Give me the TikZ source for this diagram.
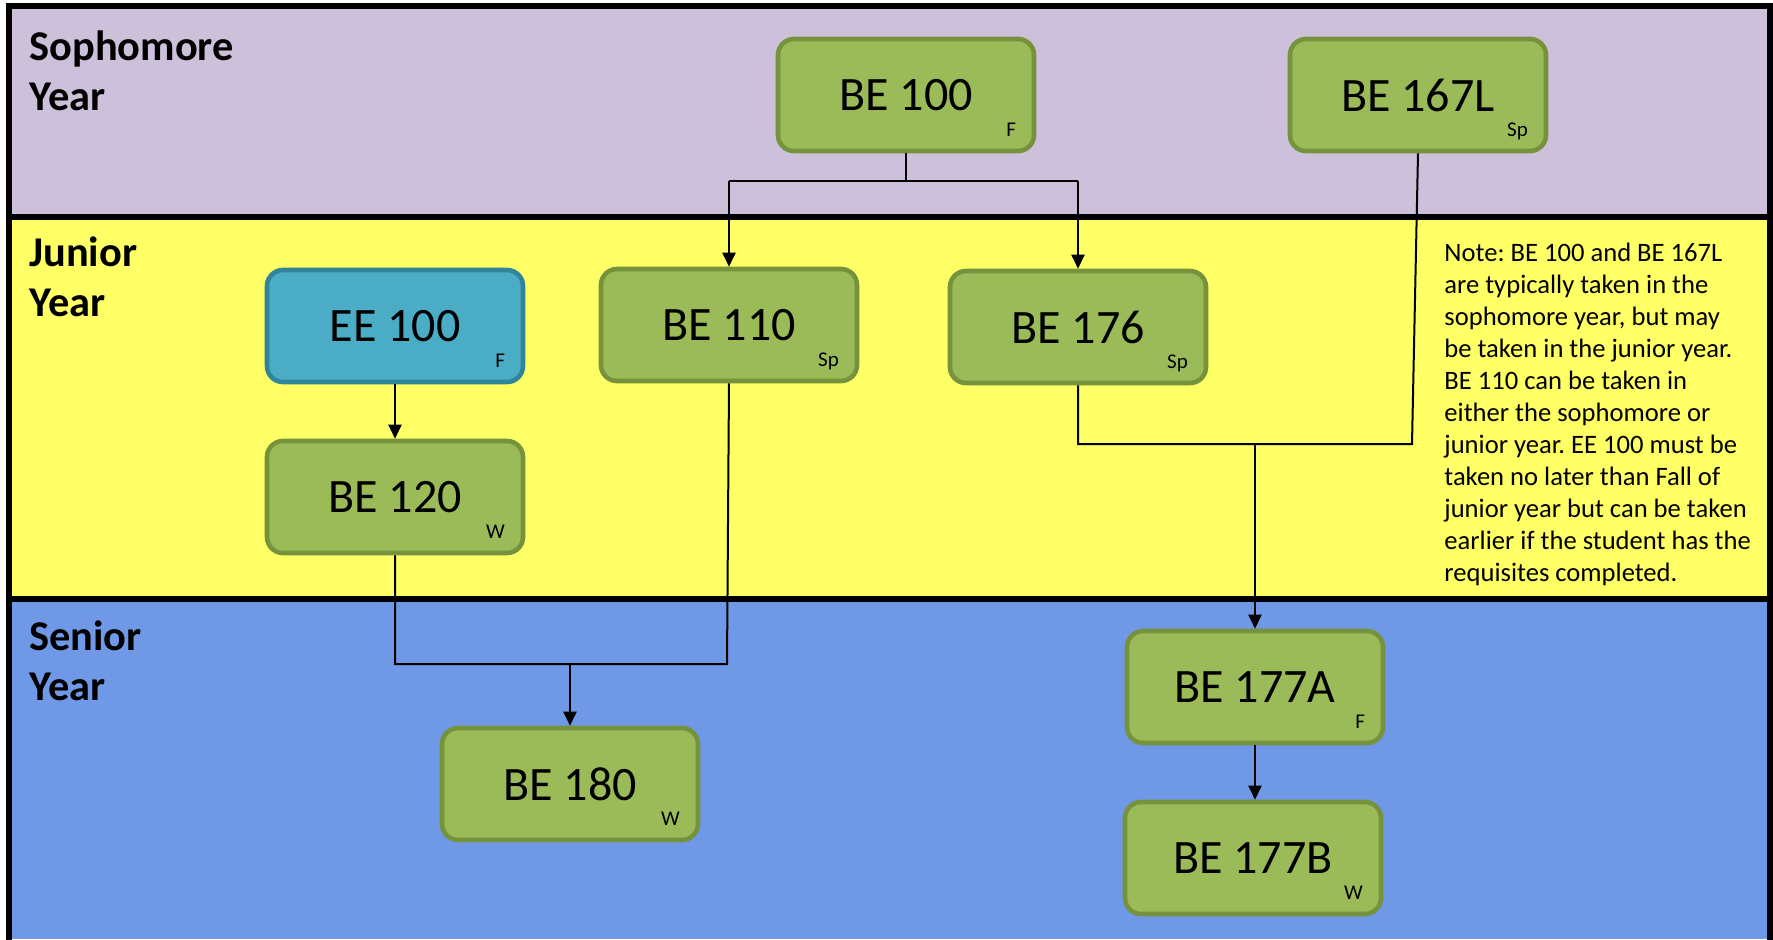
\documentclass[tikz,border=0pt]{standalone}
\usepackage{fontspec}
\setmainfont{Carlito}
\usetikzlibrary{arrows.meta}
\frenchspacing
\definecolor{soph}{RGB}{204,192,218}
\definecolor{jun}{RGB}{255,255,102}
\definecolor{sen}{RGB}{111,153,230}
\definecolor{gfill}{RGB}{155,187,89}
\definecolor{gline}{RGB}{118,146,60}
\definecolor{bfill}{RGB}{75,172,198}
\definecolor{bline}{RGB}{49,133,155}
\begin{document}
\begin{tikzpicture}[x=0.5pt,y=-0.5pt,
  course/.style={draw=gline, fill=gfill, line width=2.3pt, rounded corners=8pt, minimum width=128pt, minimum height=56pt, inner sep=0pt, font=\fontsize{24}{28}\selectfont},
  ecourse/.style={course, draw=bline, fill=bfill},
  term/.style={anchor=base east, inner sep=0pt, font=\fontsize{10.5}{12}\selectfont},
  yearlbl/.style={anchor=north west, inner sep=0pt, align=left, font=\fontsize{21.2}{25}\selectfont\bfseries},
  conn/.style={line width=1pt, black},
  arr/.style={conn, -{Triangle[length=7pt,width=6.5pt]}},
  frame/.style={line width=2.7pt, black}]
\useasboundingbox (0,0) rectangle (1773,939);
\fill[white] (0,0) rectangle (1773,939);
\fill[soph] (9,6) rectangle (1770,217);
\fill[jun] (9,217) rectangle (1770,599);
\fill[sen] (9,599) rectangle (1770,939);
\draw[frame] (9,945) -- (9,6) -- (1770,6) -- (1770,945);
\draw[frame] (9,217) -- (1770,217);
\draw[frame] (9,599) -- (1770,599);

\node[yearlbl] (sophlbl) at (29,30) {Sophomore\\Year};
\node[yearlbl] (junlbl) at (29,236) {Junior\\Year};
\node[yearlbl] (senlbl) at (29,620) {Senior\\Year};

\node[anchor=north west, inner sep=0pt, align=left, font=\fontsize{13.3}{16}\selectfont] (note) at (1444,243)
{Note: BE 100 and BE 167L\\are typically taken in the\\sophomore year, but may\\be taken in the junior year.\\BE 110 can be taken in\\either the sophomore or\\junior year. EE 100 must be\\taken no later than Fall of\\junior year but can be taken\\earlier if the student has the\\requisites completed.};

\node[course] (be100) at (906,95) {BE 100};
\node[course] (be167) at (1418,95) {BE 167L};
\node[ecourse] (ee100) at (395,326) {EE 100};
\node[course] (be110) at (729,325) {BE 110};
\node[course] (be176) at (1078,327) {BE 176};
\node[course] (be120) at (395,497) {BE 120};
\node[course] (be180) at (570,784) {BE 180};
\node[course] (be177a) at (1255,687) {BE 177A};
\node[course] (be177b) at (1253,858) {BE 177B};

\node[term] (be100t) at ([xshift=-10pt,yshift=8.5pt]be100.south east) {F};
\node[term] (be167t) at ([xshift=-10pt,yshift=8.5pt]be167.south east) {Sp};
\node[term] (ee100t) at ([xshift=-10pt,yshift=8.5pt]ee100.south east) {F};
\node[term] (be110t) at ([xshift=-10pt,yshift=8.5pt]be110.south east) {Sp};
\node[term] (be176t) at ([xshift=-10pt,yshift=8.5pt]be176.south east) {Sp};
\node[term] (be120t) at ([xshift=-10pt,yshift=8.5pt]be120.south east) {W};
\node[term] (be180t) at ([xshift=-10pt,yshift=8.5pt]be180.south east) {W};
\node[term] (be177at) at ([xshift=-10pt,yshift=8.5pt]be177a.south east) {F};
\node[term] (be177bt) at ([xshift=-10pt,yshift=8.5pt]be177b.south east) {W};

% BE 100 -> BE 110, BE 176
\coordinate (j1) at (906,181);
\draw[conn] (be100.south) -- (j1);
\draw[conn] (j1 -| be110.north) -- (j1 -| be176.north);
\draw[arr] (j1 -| be110.north) -- (be110.north);
\draw[arr] (j1 -| be176.north) -- (be176.north);

% BE 167L + BE 176 -> BE 177A
\coordinate (c1) at (1412,444);
\draw[conn] (be167.south) -- (c1) -- (c1 -| be176.south) -- (be176.south);
\draw[arr] (be177a.north |- c1) -- (be177a.north);

% EE 100 -> BE 120
\draw[arr] (ee100.south) -- (be120.north);

% BE 120 + BE 110 -> BE 180
\coordinate (c2) at (727,664);
\draw[conn] (be120.south) -- (be120.south |- c2) -- (c2) -- (be110.south);
\draw[arr] (be180.north |- c2) -- (be180.north);

% BE 177A -> BE 177B
\draw[arr] (be177a.south) -- (be177a.south |- be177b.north);
\end{tikzpicture}
\end{document}
